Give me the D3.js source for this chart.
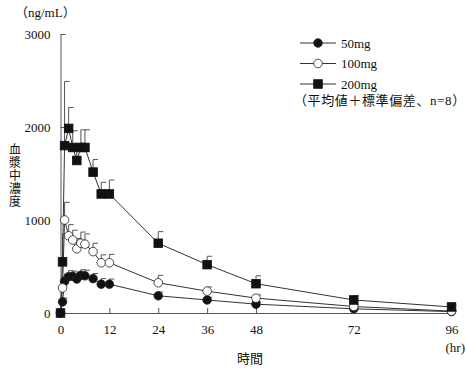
<!DOCTYPE html>
<html>
<head>
<meta charset="utf-8">
<script src="https://cdn.jsdelivr.net/npm/d3@7"></script>
<style>
  body { margin: 0; background: #fff; }
  svg { display: block; }
  text { font-family: "Liberation Serif", "Noto Sans CJK JP", serif; fill: #111; }
</style>
</head>
<body>
<svg id="chart" width="466" height="369"></svg>
<script>
/* data (ng/mL, mean + SD, n=8) */
const times = [0, 0.5, 1, 2, 3, 4, 5, 6, 8, 10, 12, 24, 36, 48, 72, 96];
const mean50 = [0, 120, 340, 390, 395, 365, 405, 400, 370, 310, 310, 185, 140, 95, 45, 15];
const sd50 = [0, 40, 80, 65, 55, 70, 60, 60, 55, 60, 55, 40, 30, 25, 15, 8];
const mean100 = [0, 270, 1000, 830, 785, 690, 750, 740, 660, 540, 540, 325, 235, 160, 70, 20];
const sd100 = [0, 120, 190, 120, 105, 110, 120, 110, 90, 85, 90, 80, 45, 35, 20, 10];
const mean200 = [0, 550, 1800, 1985, 1780, 1640, 1780, 1780, 1515, 1280, 1280, 750, 520, 315, 140, 65];
const sd200 = [0, 300, 690, 225, 180, 120, 190, 190, 135, 125, 150, 125, 90, 85, 45, 15];

const seriesNames = ['50mg', '100mg', '200mg'];
const xTicks = [0, 12, 24, 36, 48, 72, 96];
const yTicks = [0, 1000, 2000, 3000];

const series = [
  { name: seriesNames[0], mean: mean50, sd: sd50, shape: 'circle', fill: '#111' },
  { name: seriesNames[1], mean: mean100, sd: sd100, shape: 'circle', fill: '#fff' },
  { name: seriesNames[2], mean: mean200, sd: sd200, shape: 'square', fill: '#111' }
];

const svg = d3.select('#chart');

const x = d3.scaleLinear().domain([0, 96]).range([60.5, 451.5]);
const y = d3.scaleLinear().domain([0, 3000]).range([313, 34]);

// axes, ticks pointing inward
svg.append('g')
  .attr('transform', 'translate(60.5,0)')
  .call(d3.axisLeft(y).tickValues(yTicks).tickFormat(d3.format('d'))
    .tickSizeInner(-5).tickSizeOuter(0).tickPadding(10))
  .call(g => g.selectAll('text').style('font-size', '13px'))
  .call(g => g.selectAll('line,path').attr('stroke', '#555'));

svg.append('g')
  .attr('transform', 'translate(0,313)')
  .call(d3.axisBottom(x).tickValues(xTicks).tickSizeInner(-5).tickSizeOuter(0).tickPadding(12))
  .call(g => g.selectAll('text').style('font-size', '13px'))
  .call(g => g.selectAll('line,path').attr('stroke', '#555'));

// titles
svg.append('text').attr('x', 15).attr('y', 17).style('font-size', '13px').text('（ng/mL）');
svg.append('text').attr('x', 250).attr('y', 363).attr('text-anchor', 'middle')
  .style('font-size', '13px').text('時間');
svg.append('text').attr('x', 465).attr('y', 352).attr('text-anchor', 'end')
  .style('font-size', '13px').text('(hr)');

// vertical y title, one glyph per line
svg.append('text')
  .attr('x', 15).attr('y', 143)
  .style('font-family', '"Noto Sans CJK JP", sans-serif')
  .style('font-size', '12px')
  .style('writing-mode', 'vertical-rl')
  .style('text-orientation', 'upright')
  .style('letter-spacing', '1px')
  .text('血漿中濃度');

function drawMarker(g, s, cx, cy) {
  if (s.shape === 'square') {
    g.append('rect')
      .attr('x', cx - 4.3).attr('y', cy - 4.3)
      .attr('width', 8.6).attr('height', 8.6)
      .attr('fill', s.fill).attr('stroke', '#111').attr('stroke-width', 0.8);
  } else {
    g.append('circle')
      .attr('cx', cx).attr('cy', cy).attr('r', 4.3)
      .attr('fill', s.fill).attr('stroke', '#222').attr('stroke-width', 0.8);
  }
}

// error bars (mean + SD, upward only)
series.forEach(s => {
  const g = svg.append('g').attr('stroke', '#555').attr('stroke-width', 1);
  times.forEach((t, i) => {
    if (!s.sd[i]) return;
    const cx = x(t);
    const top = y(s.mean[i] + s.sd[i]);
    g.append('line').attr('x1', cx).attr('x2', cx).attr('y1', y(s.mean[i])).attr('y2', top);
    g.append('line').attr('x1', cx).attr('x2', cx + 5).attr('y1', top).attr('y2', top);
  });
});

// lines
const line = d3.line().x((d, i) => x(times[i])).y(d => y(d));
series.forEach(s => {
  svg.append('path')
    .datum(s.mean)
    .attr('d', line)
    .attr('fill', 'none')
    .attr('stroke', '#333')
    .attr('stroke-width', 1);
});

// markers
series.forEach(s => {
  const g = svg.append('g');
  times.forEach((t, i) => drawMarker(g, s, x(t), y(s.mean[i])));
});

// legend
const legendY = [43, 63.5, 84];
series.forEach((s, i) => {
  const g = svg.append('g');
  g.append('line')
    .attr('x1', 300).attr('x2', 336)
    .attr('y1', legendY[i]).attr('y2', legendY[i])
    .attr('stroke', '#333').attr('stroke-width', 1);
  drawMarker(g, s, 318, legendY[i]);
  g.append('text')
    .attr('x', 341).attr('y', legendY[i])
    .attr('dy', '0.35em')
    .style('font-size', '13px')
    .text(s.name);
});
svg.append('text').attr('x', 294).attr('y', 105)
  .style('font-size', '13px')
  .style('letter-spacing', '0.6px')
  .text('（平均値＋標準偏差、n=8）');
</script>
</body>
</html>
